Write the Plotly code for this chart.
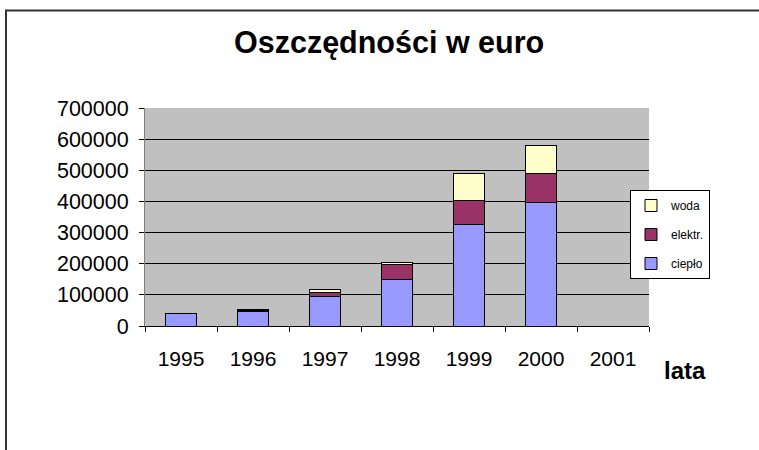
import plotly.graph_objects as go

years = ["1995", "1996", "1997", "1998", "1999", "2000", "2001"]
cieplo = [40000, 48000, 94000, 149000, 327000, 397000, None]
elektr = [0, 3000, 14000, 47000, 75000, 92000, None]
woda = [0, 2000, 8000, 9000, 87000, 89000, None]
y_ticks = [0, 100000, 200000, 300000, 400000, 500000, 600000, 700000]

W, H = 759, 450
L, R, T, B = 145, 649, 108, 326

def px(x):
    return (x - L) / (R - L)

def py(y):
    return (B - y) / (B - T)

fig = go.Figure()
series = [("ciepło", cieplo, "#9999FF", 3), ("elektr.", elektr, "#993366", 2), ("woda", woda, "#FFFFCC", 1)]
for name, vals, col, rank in series:
    fig.add_trace(go.Bar(
        x=years, y=vals, name=name, legendgroup=name, legendrank=rank,
        marker=dict(color=col, line=dict(color="#000000", width=1)),
    ))

fig.update_layout(
    width=W, height=H,
    margin=dict(l=L, r=W - R, t=T, b=H - B, pad=0),
    barmode="stack", bargap=0.58,
    plot_bgcolor="#C0C0C0", paper_bgcolor="#FFFFFF",
    font=dict(family="Liberation Sans, Arial, sans-serif", color="#000000"),
    showlegend=True,
    legend=dict(
        x=px(630), y=py(190), xanchor="left", yanchor="top",
        bgcolor="#FFFFFF", bordercolor="#000000", borderwidth=1,
        font=dict(size=12, color="#000000"),
        traceorder="grouped", tracegroupgap=10, itemwidth=30,
    ),
    xaxis=dict(
        type="category", categoryorder="array", categoryarray=years,
        tickson="boundaries", ticks="outside", ticklen=5, tickcolor="#000000",
        showline=True, linecolor="#000000", linewidth=1,
        showgrid=False, tickfont=dict(size=21), ticklabelstandoff=14,
        range=[-0.5, 6.5],
    ),
    yaxis=dict(
        range=[0, 700000], tickvals=y_ticks, ticktext=[str(v) for v in y_ticks],
        ticks="outside", ticklen=5, tickcolor="#000000",
        showline=True, linecolor="#808080", linewidth=1,
        showgrid=True, gridcolor="#000000", gridwidth=1,
        zeroline=False, tickfont=dict(size=21.5), ticklabelstandoff=6,
    ),
    annotations=[
        dict(text="<b>Oszczędności w euro</b>", x=px(389), y=py(42), xref="paper", yref="paper",
             showarrow=False, xanchor="center", yanchor="middle", font=dict(size=30.5, color="#000000")),
        dict(text="<b>lata</b>", x=px(685), y=py(370), xref="paper", yref="paper",
             showarrow=False, xanchor="center", yanchor="middle", font=dict(size=24, color="#000000")),
    ],
    shapes=[
        dict(type="line", xref="paper", yref="paper", x0=px(5), x1=px(770), y0=py(10.5), y1=py(10.5),
             line=dict(color="#333333", width=2)),
        dict(type="line", xref="paper", yref="paper", x0=px(6), x1=px(6), y0=py(10), y1=py(460),
             line=dict(color="#333333", width=2)),
    ],
)

fig.write_html("out.html", config={"displayModeBar": False},
               post_script="document.body.style.margin='0';")
